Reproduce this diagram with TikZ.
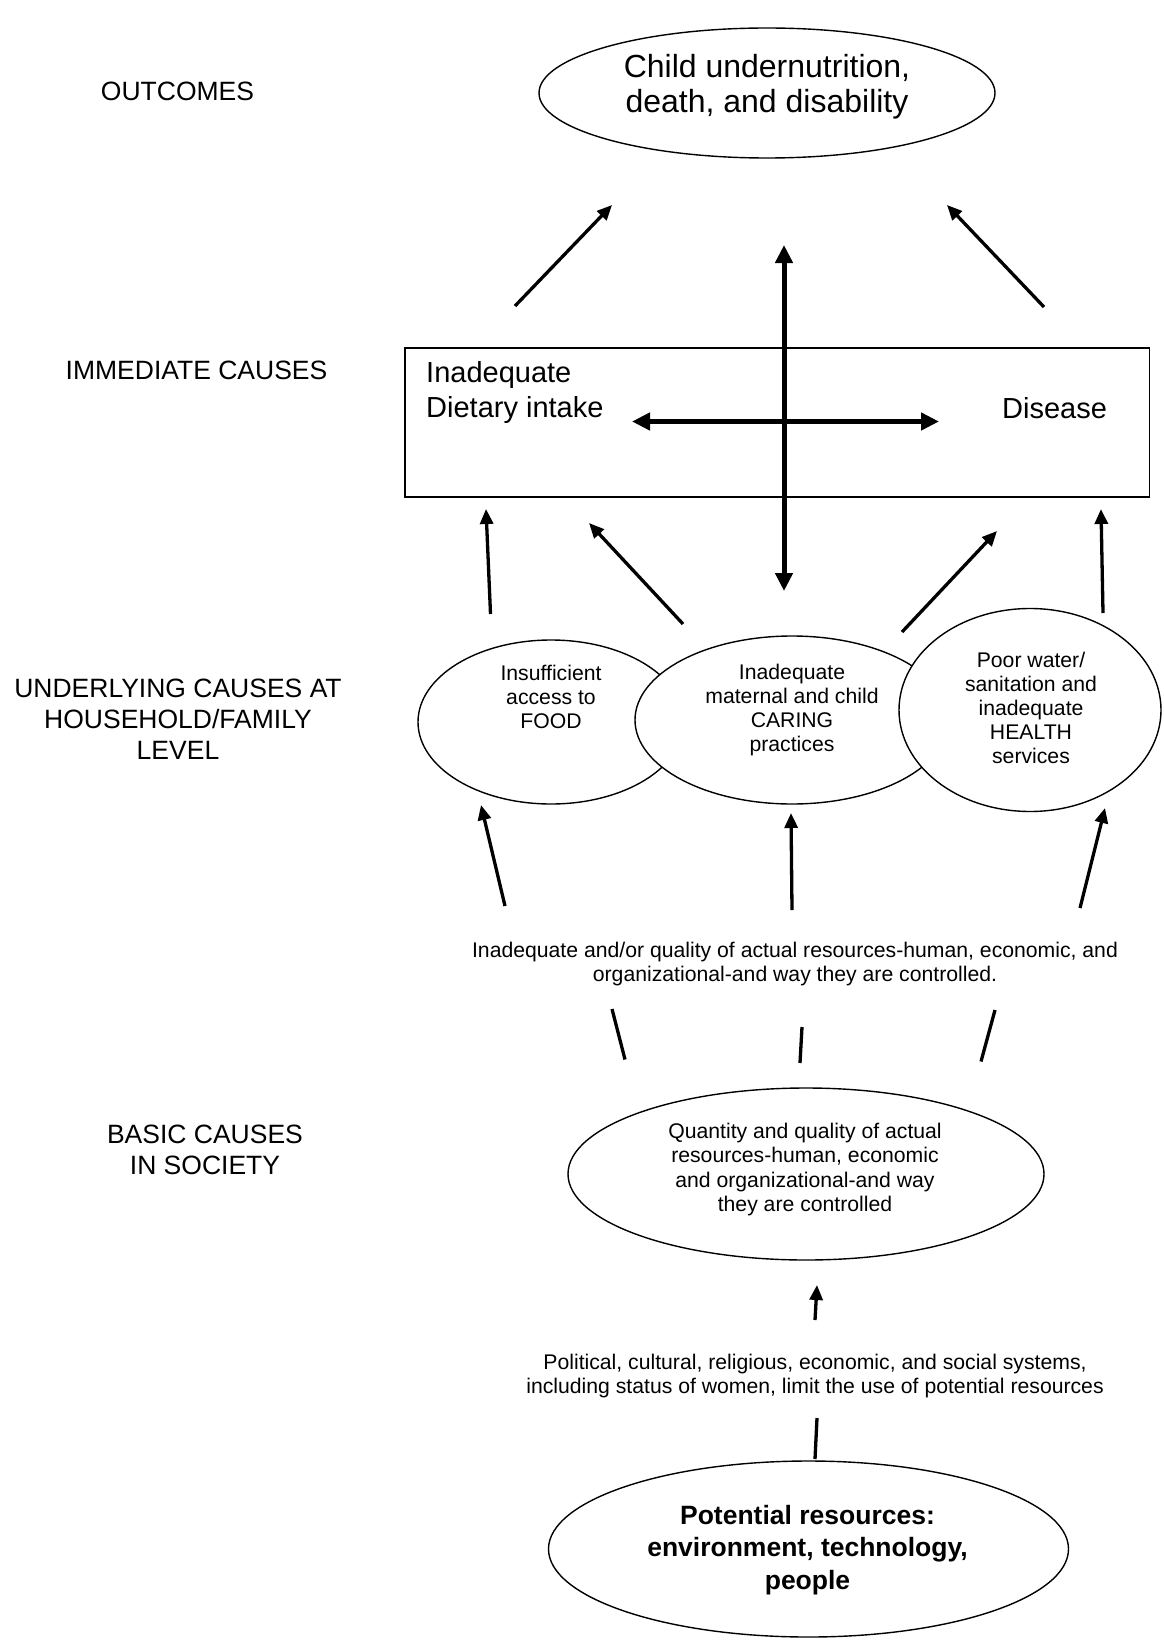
\documentclass[tikz,border=0pt]{standalone}
\usepackage{fontspec}
\setmainfont{Liberation Sans}
\usetikzlibrary{shapes.geometric,arrows.meta}
\begin{document}
\begin{tikzpicture}[x=1pt,y=-1pt,
  oval/.style={ellipse, draw, line width=1.4pt, fill=white, inner sep=0pt},
  arr/.style={line width=3.3pt, -{Triangle[length=15pt,width=13pt]}},
  dbl/.style={line width=5pt, {Triangle[length=18pt,width=17pt]}-{Triangle[length=18pt,width=17pt]}},
  bar/.style={line width=3.3pt},
  lab/.style={font=\fontsize{26.5}{31}\selectfont, align=center, inner sep=0pt},
  small/.style={font=\fontsize{21.2}{24.2}\selectfont, align=center, inner sep=0pt},
]
\useasboundingbox (0,0) rectangle (1163,1640);

% level labels
\node[lab] (l1) at (177.5,91) {OUTCOMES};
\node[lab] (l2) at (196.5,370) {IMMEDIATE CAUSES};
\node[lab] (l3) at (178,719) {UNDERLYING CAUSES AT\\HOUSEHOLD/FAMILY\\LEVEL};
\node[lab] (l4) at (205,1150) {BASIC CAUSES\\IN SOCIETY};

% outcome
\node[oval, minimum width=456pt, minimum height=130pt] (out) at (767,93) {};
\node[font=\fontsize{32}{35.5}\selectfont, align=center, inner sep=0pt] (outt) at (767,86.5) {Child undernutrition,\\death, and disability};

% immediate causes box
\node[draw, line width=1.4pt, minimum width=744.5pt, minimum height=149pt, inner sep=0pt] (imm) at (777.25,422.5) {};
\node[font=\fontsize{29}{34.5}\selectfont, align=left, anchor=west, inner sep=0pt] (diet) at (426,392.5) {Inadequate\\Dietary intake};
\node[font=\fontsize{29}{34.5}\selectfont, inner sep=0pt] (dis) at (1054.5,408) {Disease};

% arrows to outcome
\coordinate (a1s) at (515,306); \coordinate (a1e) at (612,205);
\coordinate (a2s) at (1044,307); \coordinate (a2e) at (947,205);
\draw[arr] (a1s) -- (a1e);
\draw[arr] (a2s) -- (a2e);
\coordinate (vt) at (784,245); \coordinate (vb) at (784,591);
\coordinate (hl) at (632,421.5); \coordinate (hr) at (939,421.5);
\draw[dbl] (vt) -- (vb);
\draw[dbl] (hl) -- (hr);

% underlying ellipses
\node[oval, minimum width=266pt, minimum height=164pt] (food) at (551,722) {};
\node[oval, minimum width=314pt, minimum height=168pt] (care) at (792,720) {};
\node[oval, minimum width=262pt, minimum height=203pt] (health) at (1030,710) {};
\node[small] (foodt) at (551,697) {Insufficient\\access to\\FOOD};
\node[small] (caret) at (792,710) {Inadequate\\maternal and child\\CARING\\practices};
\node[small] (healtht) at (1031,708) {Poor water/\\sanitation and\\inadequate\\HEALTH\\services};

% arrows to box
\coordinate (b1s) at (490.5,614); \coordinate (b1e) at (486,509);
\coordinate (b2s) at (683,624); \coordinate (b2e) at (589,523);
\coordinate (b3s) at (902,632); \coordinate (b3e) at (997,531);
\coordinate (b4s) at (1103,613); \coordinate (b4e) at (1101,509);
\draw[arr] (b1s) -- (b1e);
\draw[arr] (b2s) -- (b2e);
\draw[arr] (b3s) -- (b3e);
\draw[arr] (b4s) -- (b4e);

% arrows to underlying
\coordinate (c1s) at (505,906); \coordinate (c1e) at (481,805);
\coordinate (c2s) at (792,910); \coordinate (c2e) at (791,813);
\coordinate (c3s) at (1080,908); \coordinate (c3e) at (1105,808);
\draw[arr] (c1s) -- (c1e);
\draw[arr] (c2s) -- (c2e);
\draw[arr] (c3s) -- (c3e);

\node[small] (res) at (795,964) {Inadequate and/or quality of actual resources-human, economic, and\\organizational-and way they are controlled.};

% plain bars
\coordinate (d1s) at (612,1009); \coordinate (d1e) at (625,1059.5);
\coordinate (d2s) at (802,1027); \coordinate (d2e) at (800,1063);
\coordinate (d3s) at (995,1010); \coordinate (d3e) at (981,1061.5);
\draw[bar] (d1s) -- (d1e);
\draw[bar] (d2s) -- (d2e);
\draw[bar] (d3s) -- (d3e);

% basic causes
\node[oval, minimum width=476pt, minimum height=172pt] (basic) at (806,1174) {};
\node[small] (basict) at (805,1169.5) {Quantity and quality of actual\\resources-human, economic\\and organizational-and way\\they are controlled};

\coordinate (e1s) at (815,1320); \coordinate (e1e) at (817,1285);
\draw[arr] (e1s) -- (e1e);

\node[small] (pol) at (815,1376) {Political, cultural, religious, economic, and social systems,\\including status of women, limit the use of potential resources};

\coordinate (f1s) at (817,1418); \coordinate (f1e) at (815,1459);
\draw[bar] (f1s) -- (f1e);

\node[oval, minimum width=520pt, minimum height=176pt] (pot) at (808.5,1549) {};
\node[font=\bfseries\fontsize{26.5}{32.5}\selectfont, align=center, inner sep=0pt] (pott) at (807.5,1550) {Potential resources:\\environment, technology,\\people};
\end{tikzpicture}
\end{document}
